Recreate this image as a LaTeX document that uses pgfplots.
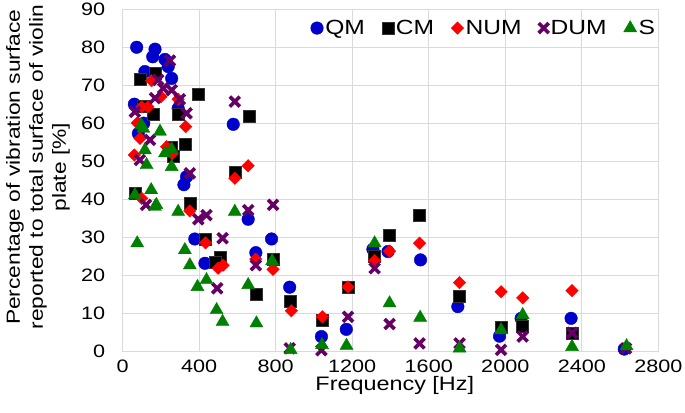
\documentclass[border=0pt]{standalone}
\usepackage{fontspec}
\setmainfont[FakeStretch=1.2]{Liberation Sans}
\usepackage{pgfplots}
\pgfplotsset{compat=1.18}
\definecolor{qmblue}{RGB}{0,0,204}
\definecolor{numred}{RGB}{255,0,0}
\definecolor{dumpurple}{RGB}{102,0,102}
\definecolor{sgreen}{RGB}{0,128,0}
\definecolor{gridgray}{RGB}{217,217,222}
\pgfdeclareplotmark{thickx}{%
  \pgfsetlinewidth{3.6pt}%
  \pgfpathmoveto{\pgfqpoint{-\pgfplotmarksize}{-\pgfplotmarksize}}%
  \pgfpathlineto{\pgfqpoint{\pgfplotmarksize}{\pgfplotmarksize}}%
  \pgfpathmoveto{\pgfqpoint{-\pgfplotmarksize}{\pgfplotmarksize}}%
  \pgfpathlineto{\pgfqpoint{\pgfplotmarksize}{-\pgfplotmarksize}}%
  \pgfusepathqstroke}
\begin{document}
\begin{tikzpicture}
\begin{axis}[
  name=ax,
  scale only axis, width=535.6pt, height=341.7pt,
  xmin=0, xmax=2800, ymin=0, ymax=90,
  xtick={0,400,...,2800}, ytick={0,10,...,90},
  grid=major, major grid style={draw=gridgray, line width=0.9pt},
  axis line style={draw=gridgray, line width=0.9pt},
  major tick length=0pt,
  clip=false,
  /pgf/number format/assume math mode=true,
  /pgf/number format/set thousands separator={},
  tick label style={font=\fontsize{18}{21}\selectfont},
  xticklabel style={yshift=-5pt},
  yticklabel style={xshift=-14pt},
  xlabel={Frequency [Hz]},
  xlabel style={at={(axis description cs:0.508,0)}, anchor=center, yshift=-34pt, font=\fontsize{19.5}{23}\selectfont},
  ylabel={Percentage of vibration surface\\reported to total surface of violin\\plate [\%]},
  ylabel style={at={(axis description cs:-0.158,0.538)}, anchor=center, align=center, font=\fontsize{19}{23}\selectfont},
  legend style={at={(axis description cs:1,0.945)}, anchor=east, draw=none, fill=none,
    font=\fontsize{20.5}{24}\selectfont, inner sep=1pt,
    /tikz/every even column/.append style={column sep=15pt}},
  legend columns=-1,
]
\addplot[only marks, mark=*, mark size=6.3pt, mark options={draw=qmblue, fill=qmblue}] coordinates {
(73,80.0) (169,79.5) (157,77.5) (221,76.8) (238,74.9) (256,71.8) (116,73.6)
(61,65.0) (290,63.9) (578,59.7) (82,57.3) (110,60.0) (334,45.9) (320,43.8)
(377,29.5) (430,23.1) (656,34.7) (696,25.9) (778,29.5) (873,16.8) (1039,3.8)
(1169,5.7) (1308,26.8) (1387,26.2) (1557,24.0) (1752,11.7) (1970,3.9)
(2083,8.6) (2344,8.6) (2622,0.5)
};
\addlegendentry{QM}
\addplot[only marks, mark=square*, mark size=6pt, mark options={draw=black!80, fill=black}] coordinates {
(90,71.6) (169,73.3) (395,67.7) (661,61.9) (106,64.5) (157,62.4) (290,62.4)
(329,54.5) (254,53.8) (264,51.2) (586,47.0) (64,41.5) (351,38.9) (433,29.5)
(508,24.7) (482,23.5) (699,15.0) (786,24.2) (877,13.0) (1044,8.2) (1178,16.9)
(1317,25.0) (1395,30.6) (1552,35.7) (1761,14.5) (1978,6.2) (2091,6.6) (2349,4.7)
};
\addlegendentry{CM}
\addplot[only marks, mark=square*, mark size=4.4pt, mark options={draw=numred, fill=numred, rotate=45}] coordinates {
(151,71.2) (99,64.3) (132,64.3) (290,66.3) (200,67.0) (329,59.1) (76,60.1)
(61,51.6) (90,56.0) (230,53.8) (259,52.0) (656,48.8) (586,45.5) (99,40.2)
(351,36.9) (433,28.5) (499,21.8) (525,22.6) (696,24.2) (786,21.5) (882,10.6)
(1044,9.0) (1178,16.9) (1317,23.8) (1395,26.3) (1552,28.4) (1761,18.0)
(1978,15.6) (2091,14.0) (2349,15.9)
};
\addlegendentry{NUM}
\addplot[only marks, mark=thickx, mark size=5pt, mark options={draw=dumpurple}] coordinates {
(247,76.5) (186,71.4) (212,69.2) (256,68.7) (169,66.6) (299,66.3) (64,63.0)
(334,62.6) (586,65.7) (143,55.6) (90,50.3) (351,46.8) (122,38.5) (395,34.7)
(438,35.8) (522,29.7) (656,37.1) (786,38.5) (494,16.5) (696,22.6) (873,0.7)
(1039,0.2) (1178,9.0) (1317,21.8) (1395,7.1) (1552,2.0) (1761,2.0) (1978,0.3)
(2091,3.8) (2349,4.8) (2631,0.7)
};
\addlegendentry{DUM}
\addplot[only marks, mark=triangle*, mark size=7.5pt, mark options={draw=sgreen, fill=sgreen}] coordinates {
(97,59.5) (108,58.6) (195,57.8) (116,52.9) (221,52.1) (256,53.1) (125,49.0)
(256,48.5) (149,42.4) (64,41.1) (169,38.0) (176,38.5) (290,36.7) (76,28.4)
(325,26.6) (351,22.6) (391,16.9) (438,18.7) (491,10.8) (522,7.7) (586,36.7)
(656,17.4) (699,7.3) (781,23.7) (878,0.3) (1042,1.6) (1170,1.4) (1317,28.4)
(1395,12.6) (1555,8.8) (1761,0.7) (1978,5.5) (2091,9.5) (2349,1.1) (2634,1.3)
};
\addlegendentry{S}
\end{axis}
\pgfresetboundingbox
\path[use as bounding box] ([xshift=-122.7pt,yshift=-62pt]ax.south west) rectangle ([xshift=26.7pt,yshift=9.3pt]ax.north east);
\end{tikzpicture}
\end{document}
